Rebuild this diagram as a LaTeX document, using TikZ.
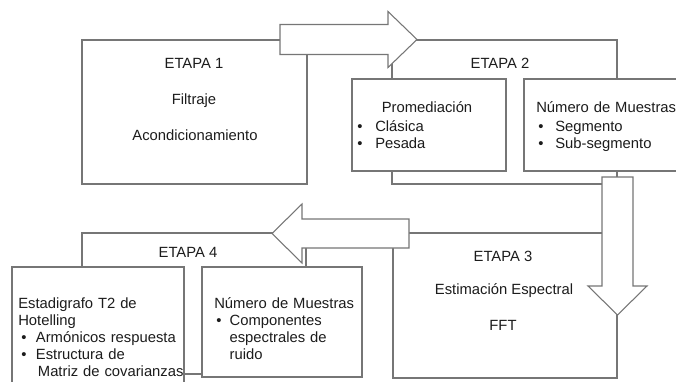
\documentclass[tikz,border=0pt]{standalone}
\usepackage{fontspec}
\setmainfont{Liberation Sans}
\usetikzlibrary{fit}

\definecolor{linegray}{RGB}{118,118,118}
\definecolor{textgray}{RGB}{28,28,28}
\newcommand{\itm}[1]{\makebox[#1][l]{\textbullet}}

\begin{document}
\begin{tikzpicture}[
  x=0.75pt, y=-0.75pt,
  stage/.style={draw=linegray, fill=white, line width=0.8pt, inner sep=0pt},
  blockarrow/.style={draw=linegray, fill=white, line width=0.8pt, line join=miter},
  lbl/.style={font=\fontsize{11.1}{12.9}\selectfont, text=textgray, inner sep=0pt, anchor=base},
  lst/.style={lbl, anchor=base west, align=left, text width=#1}
]
\useasboundingbox (0,0) rectangle (676,382);
\clip (0,0) rectangle (676,382);

% --- Stage boxes ---
\node[stage, fit={(82,40) (307,184)}]  (etapa1) {};
\node[stage, fit={(392,40) (617,184)}] (etapa2) {};
\node[stage, fit={(393,233) (617,378)}] (etapa3) {};
\node[stage, fit={(82,233) (306,374)}] (etapa4) {};

% --- Inner boxes ---
\node[stage, fit={(352,79) (506,171)}]  (prom) {};
\node[stage, fit={(524,79) (690,171)}]  (muestras2) {};
\node[stage, fit={(12,267) (184,400)}]  (hotel) {};
\node[stage, fit={(202,267) (362,377)}] (muestras4) {};

% --- Block arrows between stages ---
\draw[blockarrow] (280,24.5) -- (388,24.5) -- (388,11.5) -- (417,39.5)
  -- (388,67.5) -- (388,54.5) -- (280,54.5) -- cycle;
\draw[blockarrow] (602,177) -- (633,177) -- (633,286) -- (647,286)
  -- (617.5,315) -- (588,286) -- (602,286) -- cycle;
\draw[blockarrow] (409,219) -- (302,219) -- (302,204) -- (272,233.5)
  -- (302,263) -- (302,248) -- (409,248) -- cycle;

% --- Etapa 1 ---
\node[lbl] (t1) at (194,68)  {ETAPA 1};
\node[lbl] (f1) at (194,104) {Filtraje};
\node[lbl] (a1) at (195,140) {Acondicionamiento};

% --- Etapa 2 ---
\node[lbl] (t2) at (500,69) {ETAPA 2};
\node[lbl] (p2) at (427,112) {Promediación};
\node[lst=140pt] (l2a) at (357,131) {\itm{13.5pt}Clásica\\ \itm{13.5pt}Pesada};
\node[lst=140pt] (n2) at (536,113) {Número de Muestras};
\node[lst=140pt] (l2b) at (538,131) {\itm{12.75pt}Segmento\\ \itm{12.75pt}Sub-segmento};

% --- Etapa 3 ---
\node[lbl] (t3) at (503,261) {ETAPA 3};
\node[lbl] (s3) at (504,294) {Estimación Espectral};
\node[lbl] (f3) at (503,330) {FFT};

% --- Etapa 4 ---
\node[lbl] (t4) at (188,257) {ETAPA 4};
\node[lst=160pt] (h4) at (18,308) {Estadigrafo T2 de\\ Hotelling};
\node[lst=160pt] (l4a) at (21,342) {\itm{11pt}Armónicos respuesta\\
  \itm{11pt}Estructura de\\ \hspace*{12.5pt}Matriz de covarianzas};
\node[lst=140pt] (n4) at (214,308) {Número de Muestras};
\node[lst=140pt] (l4b) at (216,325) {\itm{10pt}Componentes\\
  \hspace*{10pt}espectrales de\\ \hspace*{10pt}ruido};

\end{tikzpicture}
\end{document}
